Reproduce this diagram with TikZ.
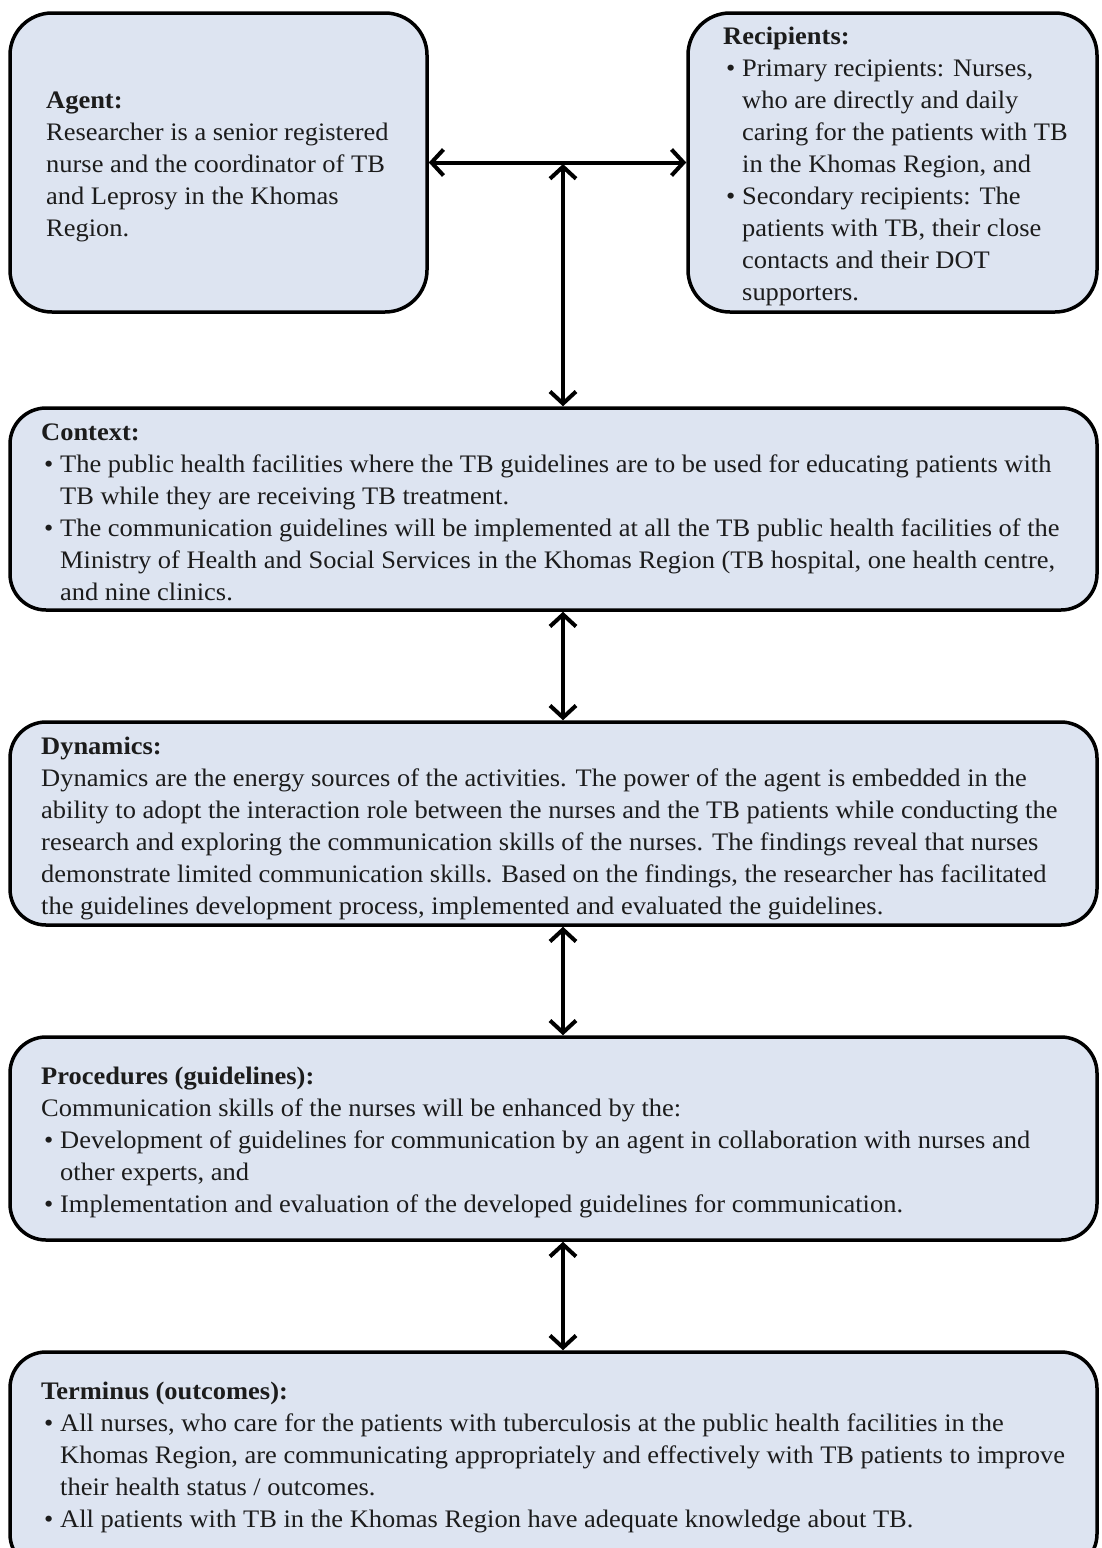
\documentclass[tikz,border=0pt]{standalone}
\usepackage{fontspec}
\setmainfont{Liberation Serif}[FakeStretch=1.05]
\usetikzlibrary{arrows.meta}
\definecolor{boxfill}{RGB}{221,228,241}
\definecolor{ink}{RGB}{28,28,28}
\newcommand\bul{\hspace*{3pt}\makebox[16pt][l]{•}}
\newcommand\hang{\hspace*{19pt}}
\newcommand\fst{\rule{0pt}{24pt}}
\begin{document}
\begin{tikzpicture}[x=1pt,y=-1pt,
  box/.style={draw=black, line width=3.5pt, fill=boxfill, inner sep=0pt, rectangle},
  txt/.style={anchor=north west, inner sep=0pt, align=left, text=ink,
    font=\fontsize{25.2}{32}\selectfont},
  dbl/.style={line width=4pt, {Straight Barb[length=12pt,width=26pt]}-{Straight Barb[length=12pt,width=26pt]}}
]
\useasboundingbox (0,0) rectangle (1101,1548);
\fill[white] (0,0) rectangle (1101,1548);
\begin{scope}
\clip (0,0) rectangle (1101,1548);
\node[box, rounded corners=42pt, minimum width=417pt, minimum height=299pt] (agent) at (218.5,162.5) {};
\node[box, rounded corners=42pt, minimum width=409pt, minimum height=299pt] (recip) at (892.5,162.5) {};
\node[box, rounded corners=36pt, minimum width=1087pt, minimum height=202pt] (ctx) at (553.5,509) {};
\node[box, rounded corners=36pt, minimum width=1087pt, minimum height=203pt] (dyn) at (553.5,823.5) {};
\node[box, rounded corners=36pt, minimum width=1087pt, minimum height=203pt] (proc) at (553.5,1138.5) {};
\node[box, rounded corners=36pt, minimum width=1087pt, minimum height=218pt] (term) at (553.5,1461) {};
\end{scope}

\node[txt] (agenttxt) at (46,84) {\fst\textbf{Agent:}\\
Researcher is a senior registered\\
nurse and the coordinator of TB\\
and Leprosy in the Khomas\\
Region.};

\node[txt] (reciptxt) at (723,20) {\fst\textbf{Recipients:}\\
\bul Primary recipients: Nurses,\\
\hang who are directly and daily\\
\hang caring for the patients with TB\\
\hang in the Khomas Region, and\\
\bul Secondary recipients: The\\
\hang patients with TB, their close\\
\hang contacts and their DOT\\
\hang supporters.};

\node[txt] (ctxtxt) at (41,416) {\fst\textbf{Context:}\\
\bul The public health facilities where the TB guidelines are to be used for educating patients with\\
\hang TB while they are receiving TB treatment.\\
\bul The communication guidelines will be implemented at all the TB public health facilities of the\\
\hang Ministry of Health and Social Services in the Khomas Region (TB hospital, one health centre,\\
\hang and nine clinics.};

\node[txt] (dyntxt) at (41,730) {\fst\textbf{Dynamics:}\\
Dynamics are the energy sources of the activities. The power of the agent is embedded in the\\
ability to adopt the interaction role between the nurses and the TB patients while conducting the\\
research and exploring the communication skills of the nurses. The findings reveal that nurses\\
demonstrate limited communication skills. Based on the findings, the researcher has facilitated\\
the guidelines development process, implemented and evaluated the guidelines.};

\node[txt] (proctxt) at (41,1060) {\fst\textbf{Procedures (guidelines):}\\
Communication skills of the nurses will be enhanced by the:\\
\bul Development of guidelines for communication by an agent in collaboration with nurses and\\
\hang other experts, and\\
\bul Implementation and evaluation of the developed guidelines for communication.};

\node[txt] (termtxt) at (41,1375) {\fst\textbf{Terminus (outcomes):}\\
\bul All nurses, who care for the patients with tuberculosis at the public health facilities in the\\
\hang Khomas Region, are communicating appropriately and effectively with TB patients to improve\\
\hang their health status / outcomes.\\
\bul All patients with TB in the Khomas Region have adequate knowledge about TB.};

\coordinate (junc) at (563,164);
\draw[dbl] (agent.east) -- (recip.west);
\draw[dbl] (junc) -- (ctx.north -| junc);
\draw[dbl] (ctx.south -| junc) -- (dyn.north -| junc);
\draw[dbl] (dyn.south -| junc) -- (proc.north -| junc);
\draw[dbl] (proc.south -| junc) -- (term.north -| junc);
\end{tikzpicture}
\end{document}
